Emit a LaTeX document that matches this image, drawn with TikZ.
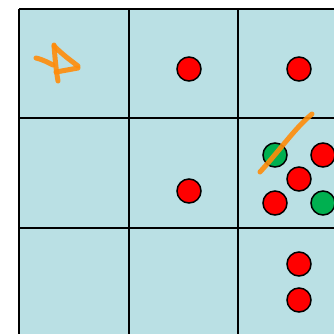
\documentclass[tikz,border=0pt]{standalone}
\definecolor{cellbg}{RGB}{186,224,228}
\definecolor{redc}{RGB}{255,0,0}
\definecolor{greenc}{RGB}{0,176,80}
\definecolor{pen}{RGB}{255,140,10}
\tikzset{
  gridline/.style={line width=2pt,black},
  dotred/.style={circle,draw=black,line width=1.5pt,fill=redc,minimum size=24pt,inner sep=0pt},
  dotgreen/.style={circle,draw=black,line width=1.5pt,fill=greenc,minimum size=24pt,inner sep=0pt},
  ink/.style={draw=pen,line width=5pt,line cap=round,line join=round,opacity=0.9}
}
\begin{document}
\begin{tikzpicture}[x=1pt,y=-1pt]
\useasboundingbox (0,0) rectangle (334,333);
\fill[cellbg] (19,9) rectangle (340,340);
\foreach \x in {19,129,238} \draw[gridline] (\x,9) -- (\x,340);
\foreach \y in {9,118,228} \draw[gridline] (19,\y) -- (340,\y);
% dots
\node[dotred] (r1) at (189,69) {};
\node[dotred] (r2) at (299,69) {};
\node[dotred] (r3) at (189,191) {};
\node[dotgreen] (g1) at (275,155) {};
\node[dotred] (r4) at (323,155) {};
\node[dotred] (r5) at (299,179) {};
\node[dotred] (r6) at (275,203) {};
\node[dotgreen] (g2) at (323,203) {};
\node[dotred] (r7) at (299,264) {};
\node[dotred] (r8) at (299,300) {};
% orange strokes
\draw[ink] (260,172) .. controls (280,150) and (295,128) .. (312,114);
\draw[ink] (36,58) .. controls (44,60) and (49,63) .. (53,65);
\draw[ink] (54,45) .. controls (55,58) and (56,70) .. (58,81);
\draw[ink] (54,46) .. controls (62,54) and (70,60) .. (78,66);
\draw[ink] (56,72) -- (78,68);
\end{tikzpicture}
\end{document}
